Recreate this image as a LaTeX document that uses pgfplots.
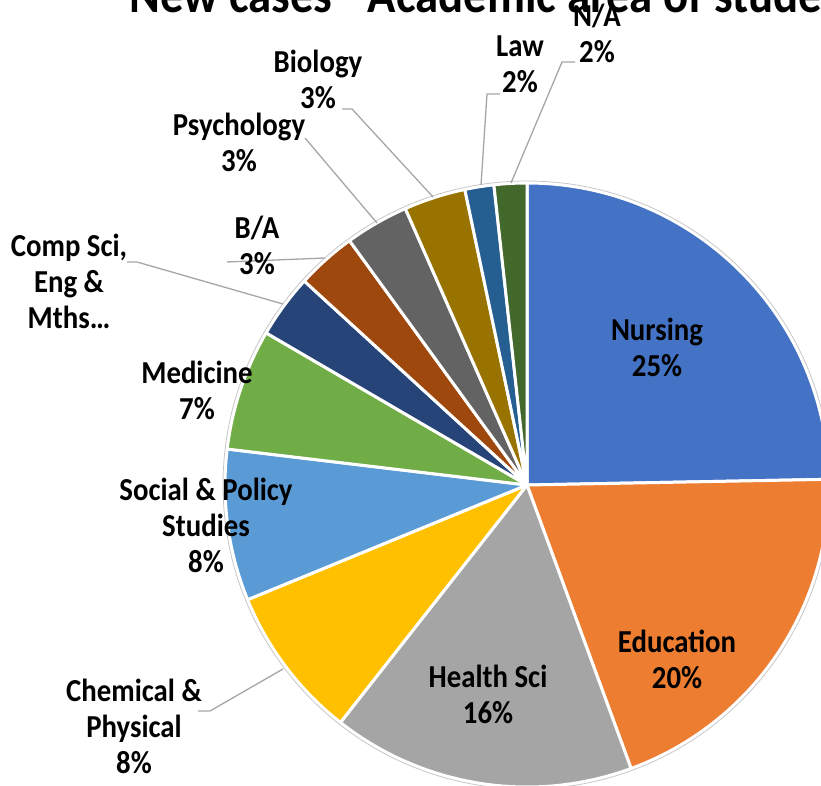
\documentclass[border=0pt]{standalone}
\usepackage{pgfplots}
\pgfplotsset{compat=1.18}
\usepackage{pgfplotstable}
\usepackage{fontspec}
\setmainfont{Carlito}[FakeStretch=0.9]

\definecolor{c0}{HTML}{4472C4}
\definecolor{c1}{HTML}{ED7D31}
\definecolor{c2}{HTML}{A5A5A5}
\definecolor{c3}{HTML}{FFC000}
\definecolor{c4}{HTML}{5B9BD5}
\definecolor{c5}{HTML}{70AD47}
\definecolor{c6}{HTML}{264478}
\definecolor{c7}{HTML}{9E480E}
\definecolor{c8}{HTML}{636363}
\definecolor{c9}{HTML}{997300}
\definecolor{c10}{HTML}{255E91}
\definecolor{c11}{HTML}{43682B}
\definecolor{leader}{HTML}{A6A6A6}

% share of new cases by academic area (percent), clockwise from 12 o'clock
\pgfplotstableread{
idx area        value
0   Nursing     24.7
1   Education   19.7
2   HealthSci   16.2
3   ChemPhys    8.2
4   SocialPol   8.1
5   Medicine    6.5
6   CompSci     3.4
7   BA          3.2
8   Psychology  3.4
9   Biology     3.3
10  Law         1.55
11  NA          1.75
}\piedata

% label: x, y of the LAST line's baseline
\newcommand\lab[3]{\node[anchor=base, align=center, font=\bfseries\fontsize{32}{36}\selectfont] at (axis cs:#1,#2) {#3};}

\begin{document}
\begin{tikzpicture}
\def\cum{0}
\pgfplotsforeachungrouped \i in {0,...,11}{%
  \pgfplotstablegetelem{\i}{value}\of\piedata
  \let\v\pgfplotsretval
  \pgfmathsetmacro\sa{90-3.6*\cum}%
  \pgfmathsetmacro\cumnew{\cum+\v}%
  \pgfmathsetmacro\sb{90-3.6*\cumnew}%
  \expandafter\xdef\csname sa\i\endcsname{\sa}%
  \expandafter\xdef\csname sb\i\endcsname{\sb}%
  \xdef\cum{\cumnew}%
}
\useasboundingbox (0,0) rectangle (821pt,785pt);
\clip (0,0) rectangle (821pt,785pt);
\begin{axis}[
  x=1pt, y=1pt,
  xmin=-527, xmax=294, ymin=-300, ymax=485,
  hide axis, clip=false,
  at={(0pt,0pt)}, anchor=south west,
]
\node[anchor=base west, font=\bfseries\fontsize{52}{60}\selectfont] at (axis cs:-401,472) {New cases - Academic area of students};

\pgfplotsinvokeforeach{0,...,11}{%
  \filldraw[fill=c#1, draw=white, line width=3pt, line join=round]
    (axis cs:0,0) -- ++({\csname sa#1\endcsname}:302pt)
    arc[start angle=\csname sa#1\endcsname, end angle=\csname sb#1\endcsname, radius=302pt] -- cycle;
}
\draw[black!22, line width=0.8pt] (axis cs:0,0) circle[radius=304pt];

% leader lines
\draw[leader, line width=1.3pt] (axis cs:-185,376) -- (axis cs:-175,376) -- (axis cs:-94,288);
\draw[leader, line width=1.3pt] (axis cs:-222,347) -- (axis cs:-150,262);
\draw[leader, line width=1.3pt] (axis cs:-27,391) -- (axis cs:-40,391) -- (axis cs:-46,300);
\draw[leader, line width=1.3pt] (axis cs:48,423) -- (axis cs:35,423) -- (axis cs:-16,302);
\draw[leader, line width=1.3pt] (axis cs:-300,223) -- (axis cs:-202,227);
\draw[leader, line width=1.3pt] (axis cs:-400,223) -- (axis cs:-390,223) -- (axis cs:-244,181);
\draw[leader, line width=1.3pt] (axis cs:-329,-226) -- (axis cs:-317,-226) -- (axis cs:-244,-184);

% labels
\lab{130}{108}{Nursing\\25\%}
\lab{150}{-203}{Education\\20\%}
\lab{-39}{-238}{Health Sci\\16\%}
\lab{-393}{-288}{Chemical \&\\Physical\\8\%}
\lab{-321}{-87}{Social \& Policy\\Studies\\8\%}
\lab{-330}{66}{Medicine\\7\%}
\lab{-458}{156}{Comp Sci,\\Eng \&\\Mths…}
\lab{-270}{210}{B/A\\3\%}
\lab{-288}{313}{Psychology\\3\%}
\lab{-209}{376}{Biology\\3\%}
\lab{-7}{392}{Law\\2\%}
\lab{70}{422}{N/A\\2\%}
\end{axis}
\end{tikzpicture}
\end{document}
